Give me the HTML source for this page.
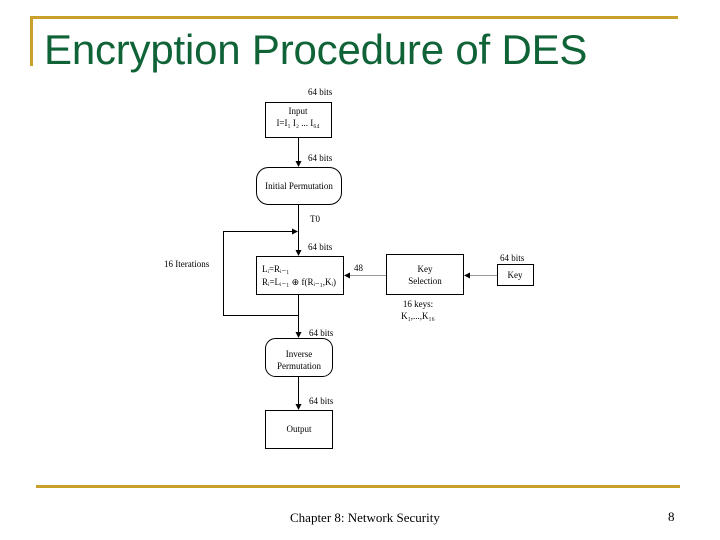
<!DOCTYPE html>
<html><head><style>
body{margin:0;width:720px;height:540px;background:#fff;overflow:hidden;position:relative;font-family:"Liberation Serif",serif;}
.t{position:absolute;left:44px;top:26px;font-family:"Liberation Sans",sans-serif;font-size:42px;color:#0f6337;white-space:nowrap;letter-spacing:-0.2px}
</style></head><body>
<div style="position:absolute;left:30px;top:16px;width:648px;height:3px;background:#c8a02a"></div>
<div style="position:absolute;left:30px;top:16px;width:3px;height:50px;background:#c8a02a"></div>
<div class="t">Encryption Procedure of DES</div>
<div style="position:absolute;left:36px;top:485px;width:644px;height:3px;background:#c8a02a"></div>
<div style="position:absolute;left:290px;top:510px;font-size:13px;color:#000">Chapter 8: Network Security</div>
<div style="position:absolute;left:668px;top:509px;font-size:13px;color:#000">8</div>
<svg width="720" height="540" style="position:absolute;left:0;top:0" font-family="Liberation Serif, serif" font-size="9">
<defs><marker id="a" markerWidth="6" markerHeight="6" refX="5" refY="3" orient="auto"><path d="M0,0L6,3L0,6z" fill="#000"/></marker></defs>
<g fill="none" stroke="#000" stroke-width="1">
<rect x="265.5" y="102.5" width="66" height="35"/>
<rect x="256.5" y="167.5" width="85" height="37" rx="12"/>
<rect x="256.5" y="256.5" width="87" height="38"/>
<rect x="386.5" y="254.5" width="77" height="40"/>
<rect x="497.5" y="264.5" width="36" height="21"/>
<rect x="265.5" y="338.5" width="67" height="38" rx="10"/>
<rect x="265.5" y="410.5" width="67" height="38"/>
<path d="M298.5 137V166" marker-end="url(#a)"/>
<path d="M298.5 204V255" marker-end="url(#a)"/>
<path d="M298.5 294V337" marker-end="url(#a)"/>
<path d="M298.5 376V409" marker-end="url(#a)"/>
<path d="M298.5 315.5H223.5V231.5H297" marker-end="url(#a)"/>
<path d="M386 275.5H345" stroke="#999" marker-end="url(#a)"/>
<path d="M497 275.5H465" stroke="#999" marker-end="url(#a)"/>
</g>
<g fill="#000">
<text x="308" y="95">64 bits</text>
<text x="298" y="114" text-anchor="middle">Input</text>
<text x="298" y="126" text-anchor="middle">I=I₁ I₂ ... I₆₄</text>
<text x="308" y="161">64 bits</text>
<text x="299" y="189" text-anchor="middle">Initial Permutation</text>
<text x="310" y="222">T0</text>
<text x="308" y="250">64 bits</text>
<text x="164" y="267">16 Iterations</text>
<text x="262" y="272">Lᵢ=Rᵢ₋₁</text>
<text x="262" y="285">Rᵢ=Lᵢ₋₁ ⊕ f(Rᵢ₋₁,Kᵢ)</text>
<text x="354" y="271">48</text>
<text x="425" y="272" text-anchor="middle">Key</text>
<text x="425" y="284" text-anchor="middle">Selection</text>
<text x="500" y="261">64 bits</text>
<text x="515" y="278" text-anchor="middle">Key</text>
<text x="418" y="307" text-anchor="middle">16 keys:</text>
<text x="418" y="319" text-anchor="middle">K₁,...,K₁₆</text>
<text x="309" y="336">64 bits</text>
<text x="299" y="357" text-anchor="middle">Inverse</text>
<text x="299" y="369" text-anchor="middle">Permutation</text>
<text x="309" y="404">64 bits</text>
<text x="299" y="432" text-anchor="middle">Output</text>
</g>
</svg>
</body></html>
